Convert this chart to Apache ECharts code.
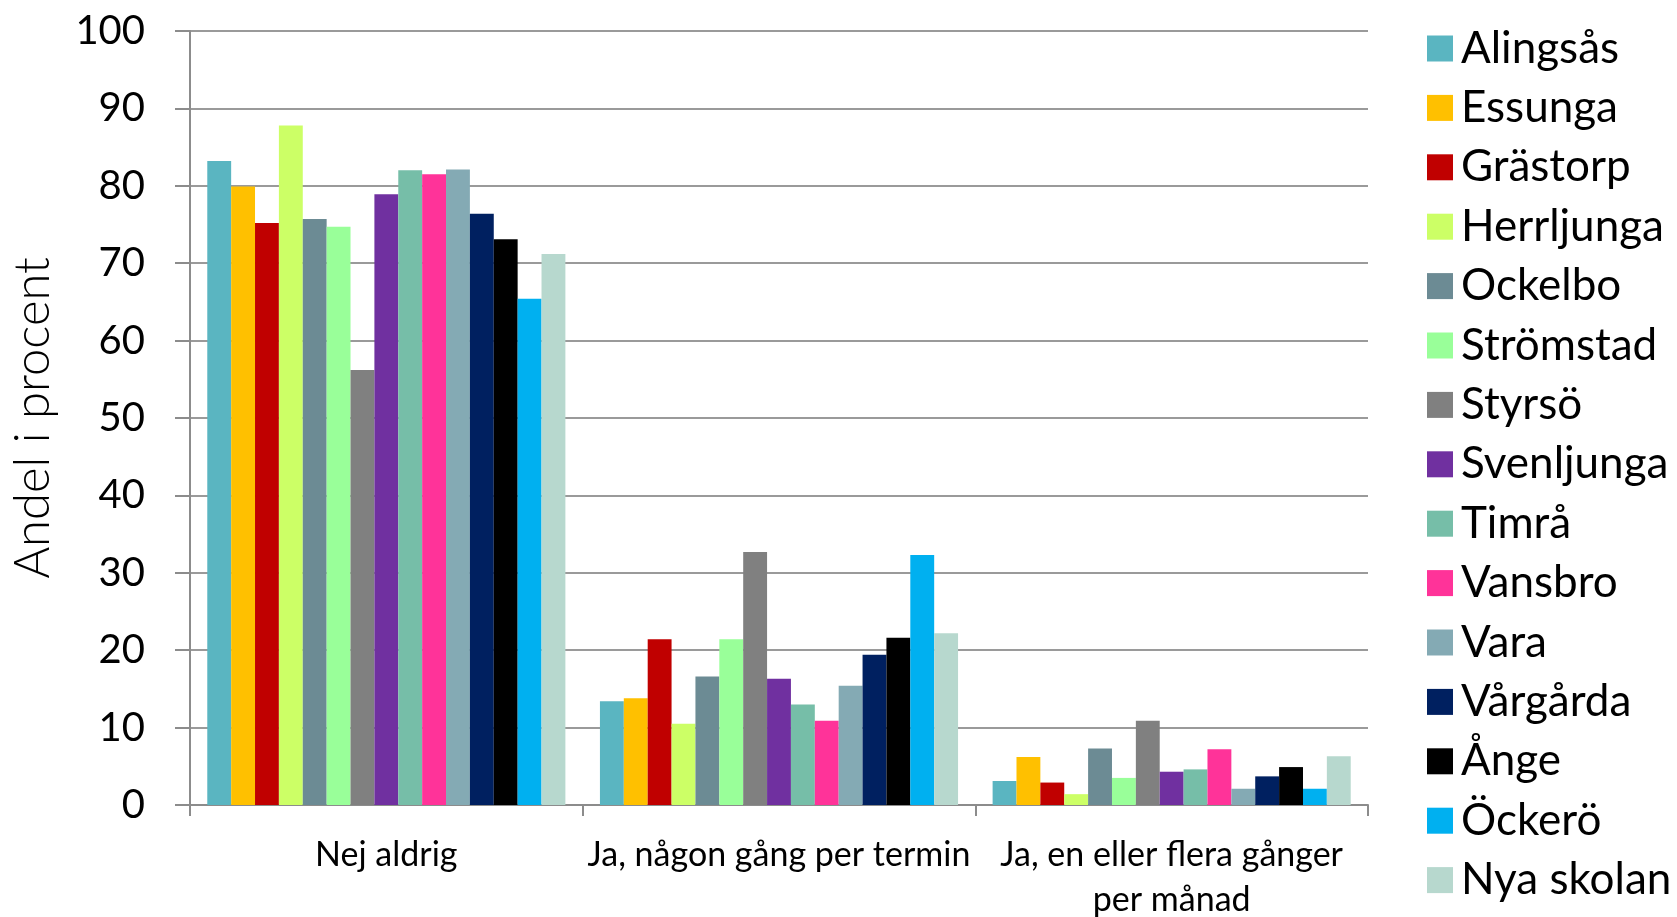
<!DOCTYPE html>
<html>
<head>
<meta charset="utf-8">
<script src="https://cdn.jsdelivr.net/npm/echarts@6/dist/echarts.min.js"></script>
<style>
  html, body { margin: 0; padding: 0; background: #fff; }
  #chart { width: 1677px; height: 917px; }
</style>
</head>
<body>
<div id="chart"></div>
<script>
// svarsalternativ
var categories = ["Nej aldrig", "Ja, någon gång per termin", "Ja, en eller flera gånger\nper månad"];
var yTicks = [0, 10, 20, 30, 40, 50, 60, 70, 80, 90, 100];

// skolor och deras andelar (procent)
var schools = ["Alingsås", "Essunga", "Grästorp", "Herrljunga", "Ockelbo", "Strömstad", "Styrsö",
  "Svenljunga", "Timrå", "Vansbro", "Vara", "Vårgårda", "Ånge", "Öckerö", "Nya skolan"];
var alingsas = [83.2, 13.4, 3.1];
var essunga = [79.9, 13.8, 6.2];
var grastorp = [75.2, 21.4, 2.9];
var herrljunga = [87.8, 10.5, 1.4];
var ockelbo = [75.7, 16.6, 7.3];
var stromstad = [74.7, 21.4, 3.5];
var styrso = [56.2, 32.7, 10.9];
var svenljunga = [78.9, 16.3, 4.3];
var timra = [82.0, 13.0, 4.6];
var vansbro = [81.5, 10.9, 7.2];
var vara = [82.1, 15.4, 2.1];
var vargarda = [76.4, 19.4, 3.7];
var ange = [73.1, 21.6, 4.9];
var ockero = [65.4, 32.3, 2.1];
var nyaSkolan = [71.2, 22.2, 6.3];

var values = [alingsas, essunga, grastorp, herrljunga, ockelbo, stromstad, styrso,
  svenljunga, timra, vansbro, vara, vargarda, ange, ockero, nyaSkolan];
var colors = ["#5AB5C1", "#FFC000", "#C00000", "#CCFF66", "#6C8B94", "#99FF99", "#808080",
  "#7030A0", "#76BEA8", "#FF3399", "#84AAB4", "#002060", "#000000", "#00B0F0", "#B7D8CE"];

var font = "Lato";
var chart = echarts.init(document.getElementById("chart"));

var option = {
  animation: false,
  color: colors,
  textStyle: { fontFamily: font },
  grid: { left: 190, right: 309, top: 31, bottom: 112, outerBoundsMode: "none", containLabel: false },
  legend: {
    orient: "vertical",
    left: 1422,
    top: 21.5,
    itemWidth: 26,
    itemHeight: 26,
    itemGap: 15.4,
    icon: "rect",
    textStyle: { fontSize: 44, lineHeight: 44, color: "#000", fontFamily: font, padding: [0, 0, 0, 3] },
    data: schools
  },
  xAxis: {
    type: "category",
    data: categories,
    axisLine: { lineStyle: { color: "#8c8c8c", width: 2 } },
    axisTick: { show: true, length: 11, lineStyle: { color: "#8c8c8c", width: 2 } },
    axisLabel: { interval: 0, fontSize: 34, color: "#000", margin: 28, lineHeight: 45, fontFamily: font }
  },
  yAxis: {
    type: "value",
    min: 0,
    max: 100,
    interval: 10,
    name: "Andel i procent",
    nameLocation: "middle",
    nameGap: 132,
    nameTextStyle: { fontSize: 49, color: "#000", fontWeight: 300, fontFamily: font },
    axisLine: { show: true, lineStyle: { color: "#8c8c8c", width: 2 } },
    axisTick: { show: true, length: 15, lineStyle: { color: "#8c8c8c", width: 2 } },
    axisLabel: {
      fontSize: 40, color: "#000", margin: 45, fontFamily: font,
      formatter: function (v) { return yTicks.indexOf(v) >= 0 ? String(v) : ""; }
    },
    splitLine: { lineStyle: { color: "#9a9a9a", width: 2 } }
  },
  series: schools.map(function (name, i) {
    return {
      name: name,
      type: "bar",
      data: values[i],
      barGap: "0%",
      barCategoryGap: "8.8%",
      itemStyle: { color: colors[i] }
    };
  })
};

chart.setOption(option);
</script>
</body>
</html>
